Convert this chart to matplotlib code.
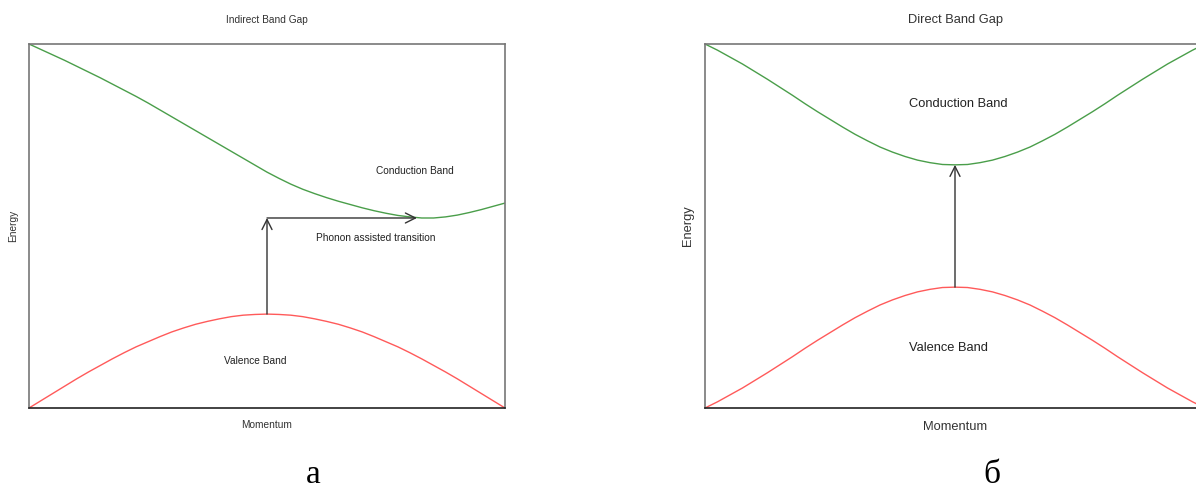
import numpy as np
from matplotlib import pyplot as plt

# momentum grid (fraction of the zone), values at 0.025 steps
k = [i / 40 for i in range(41)]

# indirect gap panel
ind_conduction = [1.000, 0.985, 0.970, 0.955, 0.939, 0.923, 0.907, 0.890,
                  0.873, 0.856, 0.838, 0.819, 0.800, 0.781, 0.762, 0.743,
                  0.724, 0.705, 0.686, 0.667, 0.648, 0.631, 0.615, 0.601,
                  0.589, 0.578, 0.568, 0.559, 0.550, 0.542, 0.535, 0.529,
                  0.525, 0.522, 0.522, 0.525, 0.530, 0.537, 0.545, 0.554,
                  0.563]
# symmetric curves: left half up to the centre point
ind_valence_half = [0.000, 0.020, 0.040, 0.060, 0.080, 0.099, 0.117, 0.135,
                    0.152, 0.168, 0.182, 0.196, 0.209, 0.220, 0.230, 0.238,
                    0.245, 0.251, 0.255, 0.257, 0.258]
ind_vbm = (0.5, 0.258)
ind_cbm = (0.815, 0.522)

# direct gap panel
dir_conduction_half = [1.000, 0.983, 0.964, 0.945, 0.924, 0.903, 0.881, 0.859,
                       0.836, 0.814, 0.793, 0.772, 0.752, 0.734, 0.717, 0.703,
                       0.691, 0.681, 0.674, 0.669, 0.668]
dir_valence_half = [0.000, 0.017, 0.036, 0.055, 0.076, 0.097, 0.119, 0.141,
                    0.164, 0.186, 0.207, 0.228, 0.248, 0.266, 0.283, 0.297,
                    0.309, 0.319, 0.326, 0.331, 0.332]

ind_valence = ind_valence_half + ind_valence_half[-2::-1]
dir_conduction = dir_conduction_half + dir_conduction_half[-2::-1]
dir_valence = dir_valence_half + dir_valence_half[-2::-1]

GREEN = '#4a9e4a'
RED = '#ff5a5a'
ARROW = '#333333'

plt.rcParams['font.family'] = ['Liberation Sans', 'DejaVu Sans']

fig = plt.figure(figsize=(11.96, 4.91), dpi=100)


def setup(ax, title, fs):
    ax.set_xlim(0, 1)
    ax.set_ylim(0, 1)
    ax.set_xticks([])
    ax.set_yticks([])
    for s in ['left', 'top', 'right']:
        ax.spines[s].set_color('#777777')
        ax.spines[s].set_linewidth(1.2)
    ax.spines['bottom'].set_color('#222222')
    ax.spines['bottom'].set_linewidth(1.2)
    ax.set_title(title, fontsize=fs, color='#333333', pad=15)
    ax.set_xlabel('Momentum', fontsize=fs, color='#333333', labelpad=9)
    ax.set_ylabel('Energy', fontsize=fs, color='#333333', labelpad=8)


def arrow(ax, p0, p1):
    ax.annotate('', xy=p1, xytext=p0,
                arrowprops=dict(arrowstyle='->', color=ARROW, lw=1.0,
                                mutation_scale=18, shrinkA=0, shrinkB=0))


# left: indirect
ax1 = fig.add_axes([29 / 1196, 83 / 491, 476 / 1196, 364 / 491])
setup(ax1, 'Indirect Band Gap', 7.3)
ax1.plot(k, ind_conduction, color=GREEN, lw=1.0)
ax1.plot(k, ind_valence, color=RED, lw=1.0)
arrow(ax1, ind_vbm, (ind_vbm[0], ind_cbm[1]))
arrow(ax1, (ind_vbm[0], ind_cbm[1]), ind_cbm)
ax1.text(0.811, 0.651, 'Conduction Band', fontsize=7.3, color='#222222',
         ha='center', va='center')
ax1.text(0.729, 0.467, 'Phonon assisted transition', fontsize=7.3,
         color='#222222', ha='center', va='center')
ax1.text(0.475, 0.129, 'Valence Band', fontsize=7.3, color='#222222',
         ha='center', va='center')

# right: direct (runs past the right edge of the figure)
ax2 = fig.add_axes([705 / 1196, 83 / 491, 500 / 1196, 364 / 491])
setup(ax2, 'Direct Band Gap', 9.3)
ax2.plot(k, dir_conduction, color=GREEN, lw=1.0)
ax2.plot(k, dir_valence, color=RED, lw=1.0)
i_top = int(np.argmax(dir_valence))
i_bot = int(np.argmin(dir_conduction))
arrow(ax2, (k[i_top], dir_valence[i_top]), (k[i_bot], dir_conduction[i_bot]))
ax2.text(0.506, 0.835, 'Conduction Band', fontsize=9.3, color='#222222',
         ha='center', va='center')
ax2.text(0.486, 0.165, 'Valence Band', fontsize=9.3, color='#222222',
         ha='center', va='center')

fig.text(313 / 1196, 0.002, 'а', family=['Liberation Serif'],
         fontsize=24, ha='center', va='bottom')
fig.text(992 / 1196, 0.002, 'б', family=['Liberation Serif'],
         fontsize=24, ha='center', va='bottom')

fig.savefig('out.png', dpi=100)
